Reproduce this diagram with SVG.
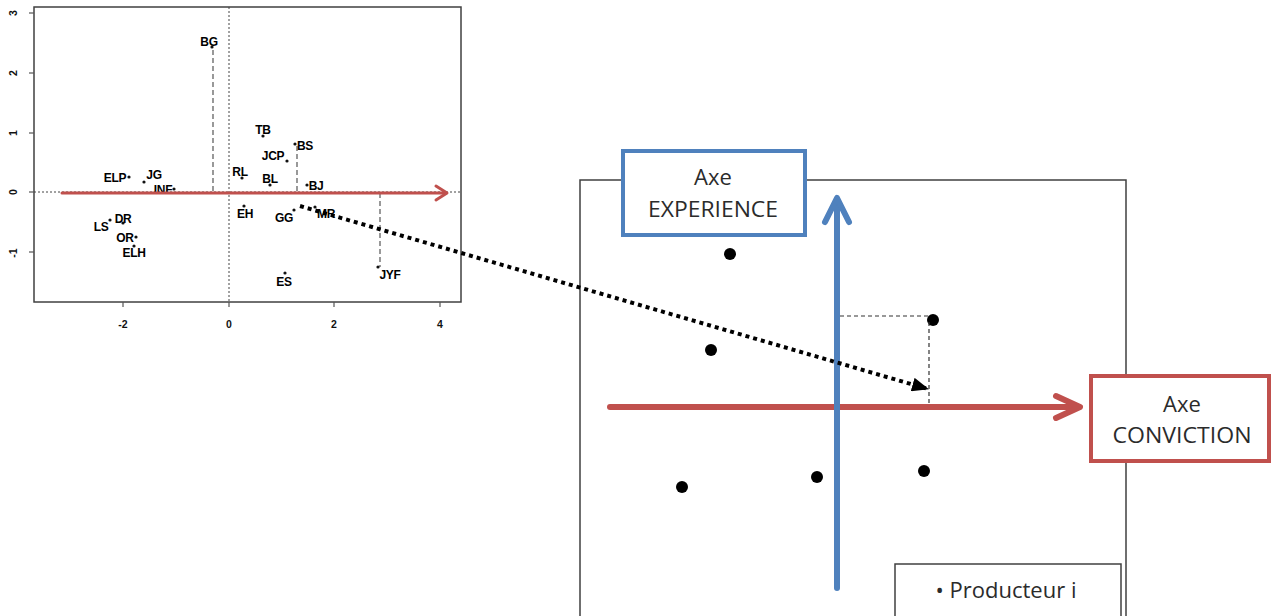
<svg xmlns="http://www.w3.org/2000/svg" width="1271" height="616" viewBox="0 0 1271 616">
<style>
.frame{fill:none;stroke:#404040;stroke-width:1.5}
.tick{stroke:#555;stroke-width:1.2}
.tl{font-family:"Liberation Sans",Arial,sans-serif;font-weight:bold;font-size:10.5px;fill:#111;text-anchor:middle}
.lab{font-family:"Liberation Sans",Arial,sans-serif;font-weight:bold;font-size:12px;fill:#000;text-anchor:middle;letter-spacing:-0.3px}
.pt{fill:#111}
.dot0{stroke:#444;stroke-width:1;stroke-dasharray:2 2;fill:none}
.dash0{stroke:#555;stroke-width:1.2;stroke-dasharray:5 3;fill:none}
.big{fill:#000}
.dashb{stroke:#333;stroke-width:1.2;stroke-dasharray:4 3;fill:none}
.red{stroke:#c0504d;fill:none;stroke-linecap:round;stroke-linejoin:round}
.blue{stroke:#4f81bd;fill:none;stroke-linecap:round;stroke-linejoin:round}
.bt{font-family:"Open Sans","Noto Sans",sans-serif;font-size:22px;fill:#2b2b2b;text-anchor:middle}
</style>
<defs>
<marker id="tri" markerUnits="userSpaceOnUse" markerWidth="17" markerHeight="14" viewBox="0 0 17 14" refX="16" refY="7" orient="auto">
<path d="M0,0 L17,7 L0,14 z" fill="#000"/>
</marker>
</defs>
<rect width="1271" height="616" fill="#fff"/>

<g id="plot">
<rect class="frame" x="34" y="7" width="427" height="295"/>
<g class="tick">
<line x1="29" y1="13" x2="34" y2="13"/><line x1="29" y1="73" x2="34" y2="73"/><line x1="29" y1="133" x2="34" y2="133"/><line x1="29" y1="192" x2="34" y2="192"/><line x1="29" y1="252" x2="34" y2="252"/>
<line x1="123" y1="302" x2="123" y2="307"/><line x1="229" y1="302" x2="229" y2="307"/><line x1="334" y1="302" x2="334" y2="307"/><line x1="440" y1="302" x2="440" y2="307"/>
</g>
<text class="tl" transform="translate(17,13) rotate(-90)">3</text>
<text class="tl" transform="translate(17,73) rotate(-90)">2</text>
<text class="tl" transform="translate(17,133) rotate(-90)">1</text>
<text class="tl" transform="translate(17,192) rotate(-90)">0</text>
<text class="tl" transform="translate(17,253) rotate(-90)">-1</text>
<text class="tl" x="123" y="328">-2</text>
<text class="tl" x="229" y="328">0</text>
<text class="tl" x="334" y="328">2</text>
<text class="tl" x="440" y="328">4</text>
<line class="dot0" x1="229" y1="7" x2="229" y2="302"/>
<line class="dot0" x1="34" y1="192" x2="461" y2="192"/>
<line class="dash0" x1="213" y1="50" x2="213" y2="192"/>
<line class="dash0" x1="297" y1="146" x2="297" y2="192"/>
<line class="dash0" x1="380" y1="193" x2="380" y2="267"/>
<g class="pt">
<circle cx="212" cy="47" r="1.6"/><circle cx="263" cy="136" r="1.6"/><circle cx="287" cy="161" r="1.6"/><circle cx="295" cy="144" r="1.6"/>
<circle cx="242" cy="178" r="1.6"/><circle cx="270" cy="185" r="1.6"/><circle cx="307" cy="185" r="1.6"/><circle cx="244" cy="206" r="1.6"/>
<circle cx="294" cy="210" r="1.6"/><circle cx="315" cy="207" r="1.6"/><circle cx="285" cy="273" r="1.6"/><circle cx="378" cy="267" r="1.6"/>
<circle cx="129" cy="177" r="1.6"/><circle cx="144" cy="182" r="1.6"/><circle cx="174" cy="189" r="1.6"/><circle cx="110" cy="220" r="1.6"/>
<circle cx="123" cy="223" r="1.6"/><circle cx="136" cy="237" r="1.6"/><circle cx="134" cy="246" r="1.6"/>
</g>
<text class="lab" x="209" y="46">BG</text>
<text class="lab" x="263" y="134">TB</text>
<text class="lab" x="273" y="160">JCP</text>
<text class="lab" x="305" y="150">BS</text>
<text class="lab" x="240" y="176">RL</text>
<text class="lab" x="270" y="183">BL</text>
<text class="lab" x="316" y="190">BJ</text>
<text class="lab" x="245" y="218">EH</text>
<text class="lab" x="284" y="222">GG</text>
<text class="lab" x="326" y="218">MR</text>
<text class="lab" x="284" y="286">ES</text>
<text class="lab" x="390" y="279">JYF</text>
<text class="lab" x="115" y="182">ELP</text>
<text class="lab" x="154" y="179">JG</text>
<text class="lab" x="163" y="194">INF</text>
<text class="lab" x="123" y="223">DR</text>
<text class="lab" x="101" y="231">LS</text>
<text class="lab" x="125" y="242">OR</text>
<text class="lab" x="134" y="257">ELH</text>
</g>

<g id="panel">
<path class="frame" d="M580,616 V180 H1126 V616"/>
<g class="big">
<circle cx="730" cy="254" r="6"/><circle cx="711" cy="350" r="6"/><circle cx="933" cy="320" r="6"/>
<circle cx="682" cy="487" r="6"/><circle cx="817" cy="477" r="6"/><circle cx="924" cy="471" r="6"/>
</g>
<line class="dashb" x1="840" y1="316" x2="930" y2="316"/>
<line class="dashb" x1="929" y1="322" x2="929" y2="407"/>
</g>

<g id="connectors">
<g id="axis-small">
<line class="red" x1="62" y1="193" x2="446" y2="193" stroke-width="3"/>
<path class="red" d="M436,186 L447,193 L436,200" stroke-width="3"/>
</g>
<g id="axis-conviction">
<line class="red" x1="610" y1="407" x2="1078" y2="407" stroke-width="6"/>
<path class="red" d="M1056,396 L1080,407 L1056,418" stroke-width="6"/>
</g>
<g id="axis-experience">
<line class="blue" x1="837" y1="588" x2="837" y2="200" stroke-width="6"/>
<path class="blue" d="M825,222 L837,198 L849,222" stroke-width="6"/>
</g>
<line id="projection" x1="300" y1="206" x2="928" y2="389" stroke="#000" stroke-width="4" stroke-dasharray="4 4" marker-end="url(#tri)"/>
</g>

<g id="experience">
<rect x="623" y="151" width="182" height="84" fill="#fff" stroke="#4f81bd" stroke-width="4"/>
<text class="bt" x="713" y="185">Axe</text>
<text class="bt" x="713" y="217" textLength="130" lengthAdjust="spacingAndGlyphs">EXPERIENCE</text>
</g>

<g id="conviction">
<rect x="1091" y="376" width="178" height="85" fill="#fff" stroke="#c0504d" stroke-width="4"/>
<text class="bt" x="1182" y="412">Axe</text>
<text class="bt" x="1182" y="443" textLength="139" lengthAdjust="spacingAndGlyphs">CONVICTION</text>
</g>

<g id="legend">
<path d="M895,616 V564 H1121 V616" fill="#fff" stroke="#404040" stroke-width="1.5"/>
<text class="bt" x="1006" y="598">• Producteur i</text>
</g>
</svg>
